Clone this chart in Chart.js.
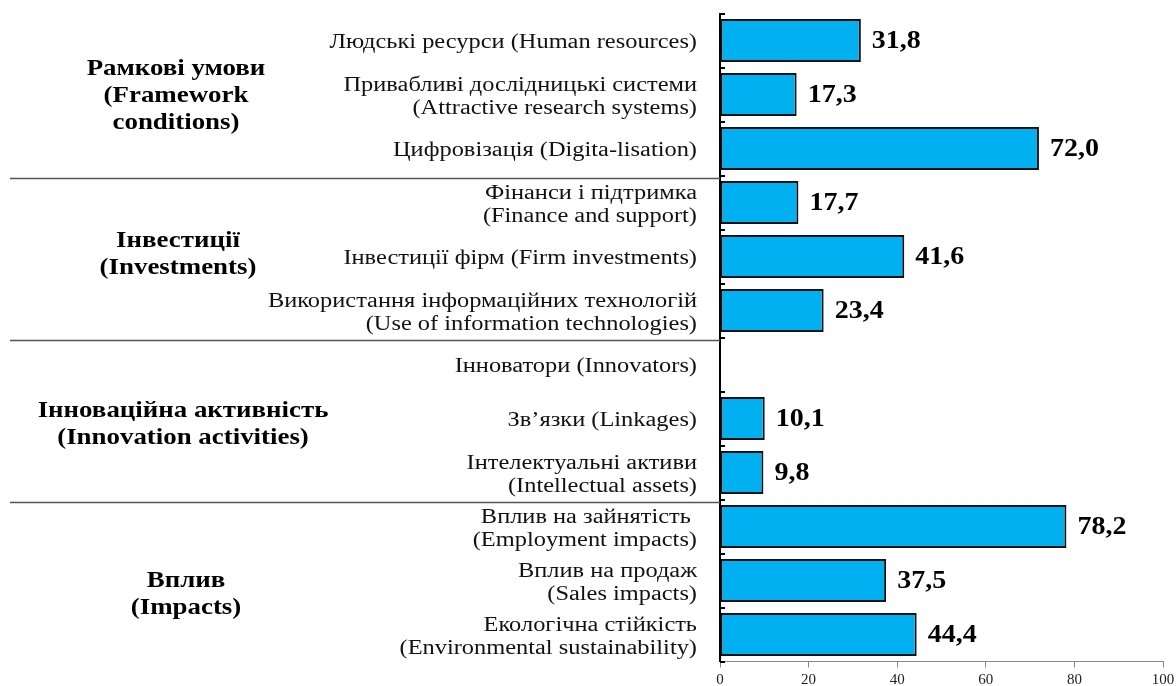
<!DOCTYPE html>
<html>
<head>
<meta charset="utf-8">
<script src="https://cdn.jsdelivr.net/npm/chart.js@4/dist/chart.umd.min.js"></script>
<style>
html,body{margin:0;padding:0;background:#fff;}
canvas{display:block;}
</style>
</head>
<body>
<canvas id="c" width="1176" height="686"></canvas>
<script>
const categories = [
  ["Людські ресурси (Human resources)"],
  ["Привабливі дослідницькі системи", "(Attractive research systems)"],
  ["Цифровізація (Digita-lisation)"],
  ["Фінанси і підтримка", "(Finance and support)"],
  ["Інвестиції фірм (Firm investments)"],
  ["Використання інформаційних технологій", "(Use of information technologies)"],
  ["Інноватори (Innovators)"],
  ["Зв’язки (Linkages)"],
  ["Інтелектуальні активи", "(Intellectual assets)"],
  ["Вплив на зайнятість ", "(Employment impacts)"],
  ["Вплив на продаж", "(Sales impacts)"],
  ["Екологічна стійкість", "(Environmental sustainability)"]
];
const values = [31.8, 17.3, 72.0, 17.7, 41.6, 23.4, null, 10.1, 9.8, 78.2, 37.5, 44.4];
const groupNames = [
  ["Рамкові умови", "(Framework", "conditions)"],
  ["Інвестиції", "(Investments)"],
  ["Інноваційна активність", "(Innovation activities)"],
  ["Вплив", "(Impacts)"]
];
const groupSizes = [3, 3, 3, 3];
const xTicks = [0, 20, 40, 60, 80, 100];

// layout-only constants
const groupOffsetsY = [1, -2.5, 6, 14];
const groupCentersX = [176, 178, 183, 186];
const SERIF = '"Liberation Serif", "Times New Roman", serif';

function stretchedText(ctx, text, x, y, sx, align) {
  ctx.save();
  ctx.translate(x, y);
  ctx.scale(sx, 1);
  ctx.textAlign = align;
  ctx.fillText(text, 0, 0);
  ctx.restore();
}

const decorPlugin = {
  id: 'decor',
  afterDraw(chart) {
    const ctx = chart.ctx;
    const y = chart.scales.y;
    const area = chart.chartArea;
    const n = categories.length;
    const boundary = i => {
      if (i <= 0) return area.top;
      if (i >= n) return area.bottom;
      return (y.getPixelForValue(i - 1) + y.getPixelForValue(i)) / 2;
    };
    ctx.save();
    // small ticks on y axis
    ctx.strokeStyle = '#000';
    ctx.lineWidth = 2;
    for (let i = 0; i <= n; i++) {
      const py = Math.round(boundary(i));
      ctx.beginPath();
      ctx.moveTo(area.left, py);
      ctx.lineTo(area.left + 5, py);
      ctx.stroke();
    }
    // category labels
    ctx.fillStyle = '#111';
    ctx.font = '20px ' + SERIF;
    ctx.textBaseline = 'middle';
    categories.forEach((lines, i) => {
      const cy = y.getPixelForValue(i) + 2.5;
      const lh = 23;
      lines.forEach((t, li) => {
        stretchedText(ctx, t, area.left - 23, cy + (li - (lines.length - 1) / 2) * lh, 1.22, 'right');
      });
    });
    // separators and group labels
    let start = 0;
    groupSizes.forEach((sz, gi) => {
      const end = start + sz;
      if (gi < groupSizes.length - 1) {
        const py = boundary(end) + 3;
        ctx.strokeStyle = '#555';
        ctx.lineWidth = 1.5;
        ctx.beginPath();
        ctx.moveTo(10, py);
        ctx.lineTo(area.left, py);
        ctx.stroke();
      }
      const cy = (boundary(start) + boundary(end)) / 2 + groupOffsetsY[gi];
      const lines = groupNames[gi];
      const lh = 27;
      ctx.fillStyle = '#000';
      ctx.font = 'bold 24px ' + SERIF;
      ctx.textBaseline = 'middle';
      lines.forEach((t, li) => {
        stretchedText(ctx, t, groupCentersX[gi], cy + (li - (lines.length - 1) / 2) * lh, 1.12, 'center');
      });
      start = end;
    });
    // value labels
    const meta = chart.getDatasetMeta(0);
    ctx.font = 'bold 25px ' + SERIF;
    ctx.textBaseline = 'middle';
    ctx.fillStyle = '#000';
    meta.data.forEach((el, i) => {
      const v = values[i];
      if (v === null || v === undefined) return;
      stretchedText(ctx, v.toFixed(1).replace('.', ','), el.x + 11, el.y + 1, 1.12, 'left');
    });
    ctx.restore();
  }
};

new Chart(document.getElementById('c'), {
  type: 'bar',
  data: {
    labels: categories,
    datasets: [{
      data: values,
      backgroundColor: '#00B0F0',
      borderColor: '#111',
      borderWidth: 2,
      borderSkipped: false,
      barPercentage: 0.8,
      categoryPercentage: 1.0
    }]
  },
  options: {
    indexAxis: 'y',
    responsive: false,
    animation: false,
    layout: { padding: { top: 13.5, right: 13, bottom: 0, left: 0 } },
    plugins: { legend: { display: false }, tooltip: { enabled: false } },
    scales: {
      y: {
        afterFit(s) { s.width = 720; s.paddingTop = 0; s.paddingBottom = 0; },
        grid: { display: false, drawTicks: false },
        border: { display: true, color: '#000', width: 2 },
        ticks: { display: false }
      },
      x: {
        min: 0,
        max: 100,
        afterBuildTicks(s) { s.ticks = xTicks.map(v => ({ value: v })); },
        afterFit(s) { s.height = 24.5; s.paddingLeft = 0; s.paddingRight = 0; },
        grid: { drawOnChartArea: false, drawTicks: true, tickLength: 6, color: '#888' },
        border: { display: true, color: '#888', width: 1 },
        ticks: {
          padding: 4,
          color: '#222',
          font: { family: SERIF, size: 15 }
        }
      }
    }
  },
  plugins: [decorPlugin]
});
</script>
</body>
</html>
